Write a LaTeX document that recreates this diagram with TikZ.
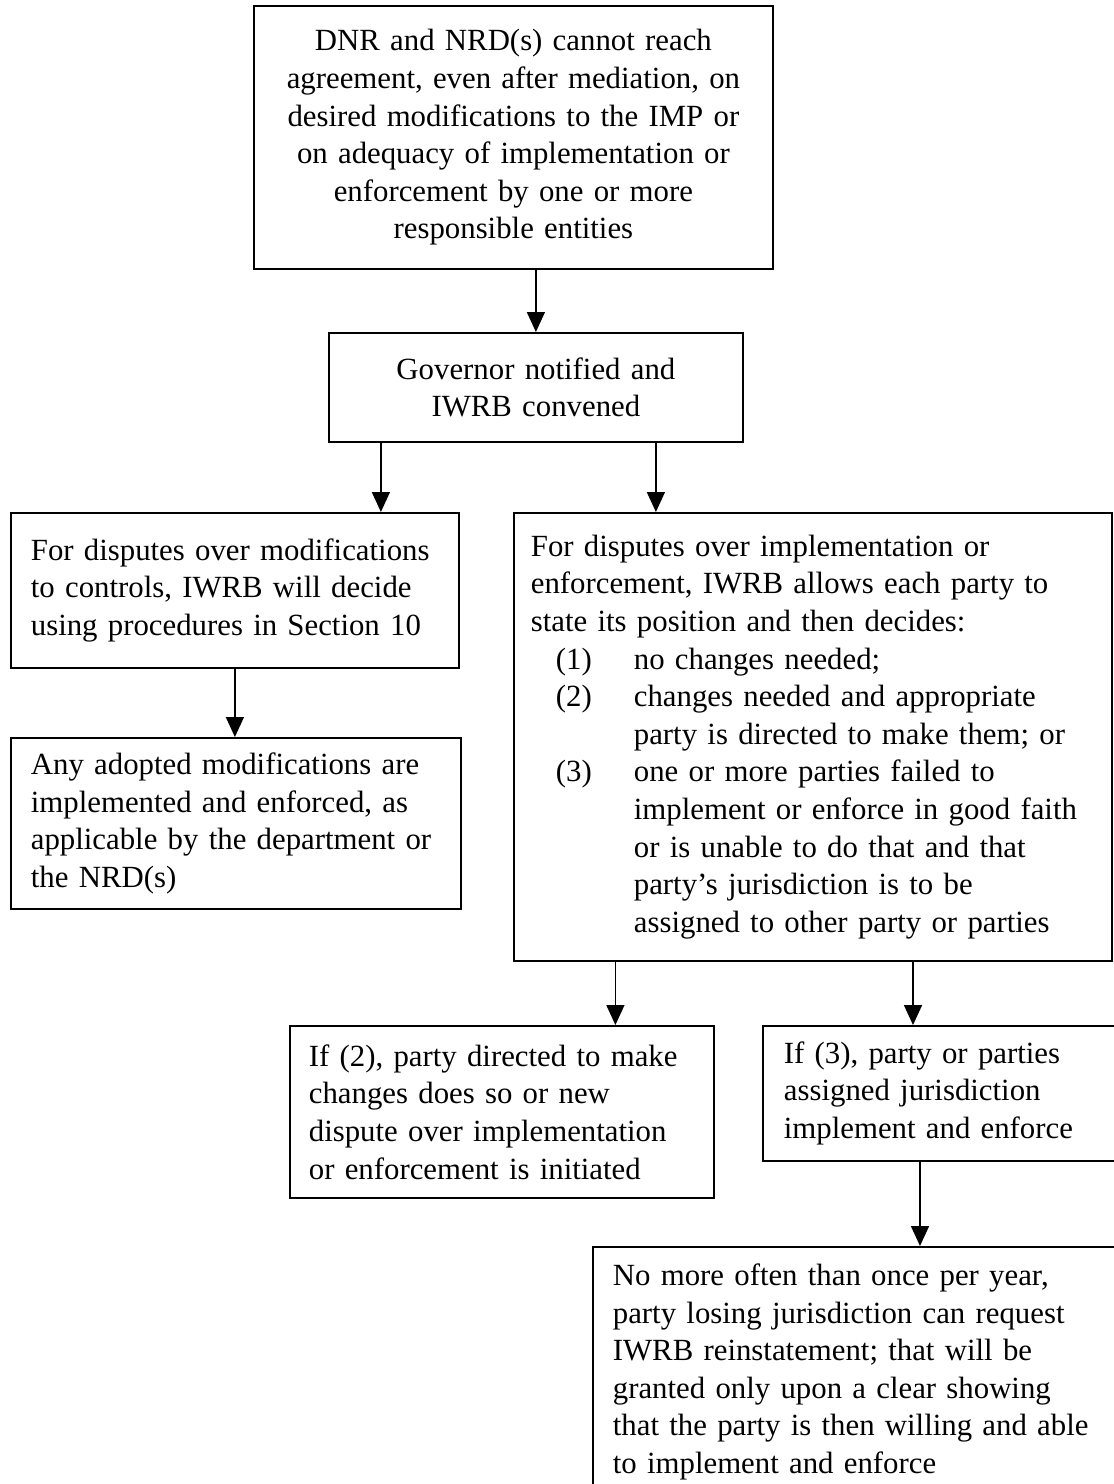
\documentclass[tikz,border=0pt]{standalone}
\usepackage{fontspec}
\setmainfont{Liberation Serif}
\usepackage{tikz}
\usetikzlibrary{positioning,arrows.meta}
\tikzset{
  flowarr/.style={-{Triangle[length=10pt,width=9pt]},line width=0.75pt},
  block/.style={draw=black,line width=0.9pt,anchor=north west,align=left,
                inner xsep=9pt,inner ysep=2pt},
  cblock/.style={block,align=center}
}
\newcommand\ritem[2]{\mbox{\hspace*{12.5pt}\makebox[39pt][l]{#1}#2}}
\newcommand\rcont[1]{\mbox{\hspace*{51.5pt}#1}}

\begin{document}
\begin{tikzpicture}[x=0.5pt,y=-0.5pt,every node/.style={font=\fontsize{15.4}{18.8}\selectfont}]
\fill[white] (0,0) rectangle (1114,1484);
\clip (0,0) rectangle (1114,1484);

\node[cblock, text width=241.5pt, minimum height=131.5pt] (start) at (253,5)
  {DNR and NRD(s) cannot reach\\agreement, even after mediation, on\\desired modifications to the IMP or\\on adequacy of implementation or\\enforcement by one or more\\responsible entities};
\node[cblock, text width=189pt, minimum height=54.5pt] (gov) at (328,332)
  {Governor notified and\\IWRB convened};
\node[block, inner xsep=10pt, text width=204pt, minimum height=77.5pt] (modif) at (10,512)
  {For disputes over modifications\\to controls, IWRB will decide\\using procedures in Section 10};
\node[block, inner xsep=10pt, text width=205pt, minimum height=85.5pt] (adopt) at (10,737)
  {Any adopted modifications are\\implemented and enforced, as\\\mbox{applicable by the department or}\\the NRD(s)};
\node[block, inner xsep=8.5pt, text width=282pt, minimum height=224pt] (impl) at (513,512)
  {For disputes over implementation or\\enforcement, IWRB allows each party to\\state its position and then decides:\\
   \ritem{(1)}{no changes needed;}\\
   \ritem{(2)}{changes needed and appropriate}\\
   \rcont{party is directed to make them; or}\\
   \ritem{(3)}{one or more parties failed to}\\
   \rcont{implement or enforce in good faith}\\
   \rcont{or is unable to do that and that}\\
   \rcont{party’s jurisdiction is to be}\\
   \rcont{assigned to other party or parties}\\[10pt]};
\node[block, inner xsep=9.5pt, text width=193pt, minimum height=86pt] (direct) at (289,1025)
  {If (2), party directed to make\\changes does so or new\\dispute over implementation\\or enforcement is initiated};
\node[block, inner xsep=10.5pt, text width=168pt, minimum height=67.5pt] (assign) at (762,1025)
  {If (3), party or parties\\assigned jurisdiction\\implement and enforce};
\node[block, inner xsep=10pt, text width=254pt, minimum height=125pt] (reinst) at (592,1246)
  {No more often than once per year,\\party losing jurisdiction can request\\IWRB reinstatement; that will be\\granted only upon a clear showing\\that the party is then willing and able\\to implement and enforce};

% connectors
\draw[flowarr] (start.south -| gov.north) -- (gov.north);
\draw[flowarr] ([xshift=-77.5pt]gov.south) -- ([xshift=-77.5pt]gov.south |- modif.north);
\draw[flowarr] ([xshift=60pt]gov.south) -- ([xshift=60pt]gov.south |- impl.north);
\draw[flowarr] (modif.south) -- (modif.south |- adopt.north);
\draw[flowarr] ([xshift=-98.75pt]impl.south) -- ([xshift=-98.75pt]impl.south |- direct.north);
\draw[flowarr] ([xshift=75.5pt]assign.north west |- impl.south) -- ([xshift=75.5pt]assign.north west);
\draw[flowarr] ([xshift=79pt]assign.south west) -- ([xshift=79pt]assign.south west |- reinst.north);
\end{tikzpicture}
\end{document}
